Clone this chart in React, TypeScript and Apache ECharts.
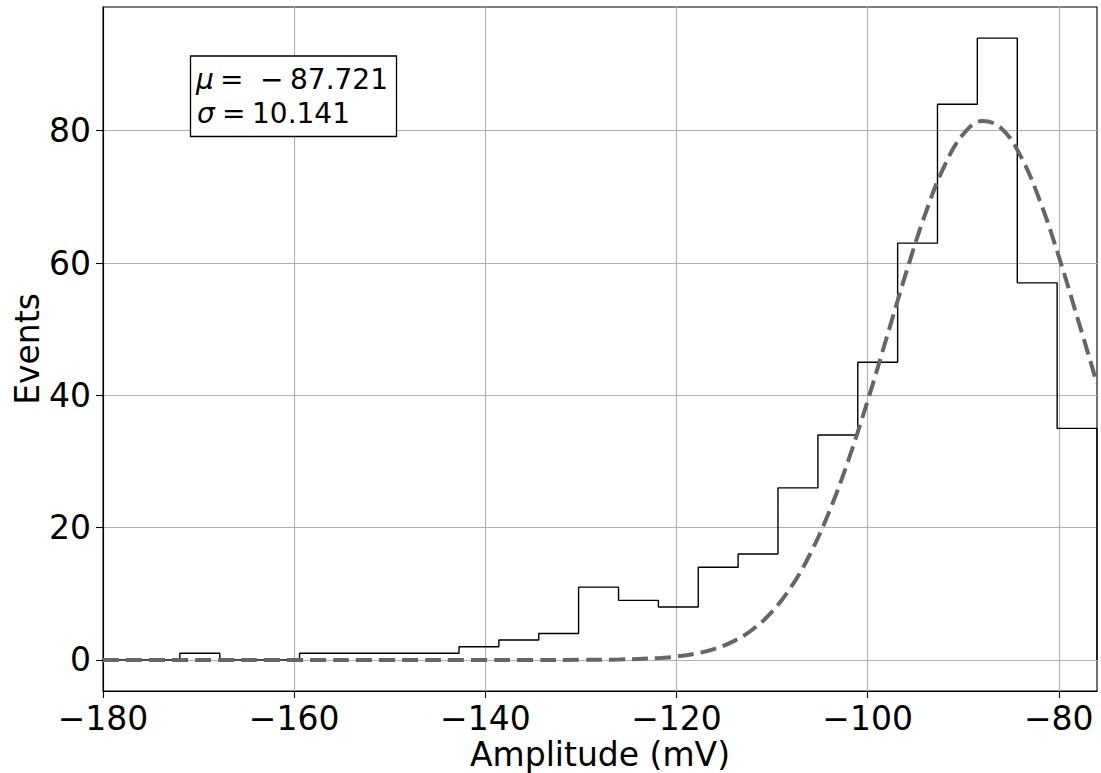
import React, { useEffect, useRef } from "react";
import * as echarts from "echarts";

// Histogram bin edges (mV) and counts
const binEdges = [
  -180.3, -176.13, -171.96, -167.78, -163.61, -159.44, -155.27, -151.1, -146.92,
  -142.75, -138.58, -134.41, -130.24, -126.06, -121.89, -117.72, -113.55, -109.38,
  -105.2, -101.03, -96.86, -92.69, -88.52, -84.34, -80.17, -76.0,
];
const binCounts = [
  0, 0, 1, 0, 0, 1, 1, 1, 1, 2, 3, 4, 11, 9, 8, 14, 16, 26, 34, 45, 63, 84, 94, 57, 35,
];

// Fitted curve
const fitX = [
  -180, -170, -160, -150, -140, -135, -130, -126, -122, -120, -118, -116, -114, -112,
  -110, -108, -106, -104, -102, -100, -98, -96, -94, -92, -90, -88, -86, -84, -82,
  -80, -78, -76,
];
const fitY = [
  0, 0, 0, 0, 0, 0.0015, 0.014, 0.066, 0.27, 0.51, 0.94, 1.67, 2.84, 4.64, 7.3, 11.03,
  16.05, 22.46, 30.25, 39.15, 48.75, 58.4, 67.28, 74.56, 79.46, 81.47, 80.34, 76.19,
  69.51, 61.0, 51.48, 41.79,
];

const xTicks = [-180, -160, -140, -120, -100, -80];
const yTicks = [0, 20, 40, 60, 80];

const muSymbol = "μ";
const muValue = "87.721";
const sigmaSymbol = "σ";
const sigmaValue = "10.141";

const FONT = "DejaVu Sans";

const fmt = (v: number) => (v < 0 ? "\u2212" + Math.abs(v) : String(v));

function txt(text: string, x: number, y: number, italic = false) {
  return {
    type: "text",
    z: 101,
    x,
    y,
    style: {
      text,
      fontSize: 28,
      fontFamily: FONT,
      fontStyle: italic ? "italic" : "normal",
      fill: "#000",
      verticalAlign: "middle",
      align: "left",
    },
  };
}

export default function App() {
  const ref = useRef<HTMLDivElement>(null);
  useEffect(() => {
    if (!ref.current) return;
    const chart = echarts.init(ref.current, undefined, { renderer: "svg" });

    const histPts: number[][] = [[binEdges[0], 0]];
    binCounts.forEach((c, i) => {
      histPts.push([binEdges[i], c]);
      histPts.push([binEdges[i + 1], c]);
    });
    histPts.push([binEdges[binEdges.length - 1], 0]);

    const fitPts = fitX.map((x, i) => [x, fitY[i]]);

    const axisCommon = {
      type: "value" as const,
      nameLocation: "middle" as const,
      nameMoveOverlap: false,
      nameTextStyle: { fontSize: 33, lineHeight: 33, color: "#000", fontFamily: FONT },
      axisLine: { show: true, onZero: false, lineStyle: { color: "#000", width: 1.1 } },
      splitLine: { show: true, lineStyle: { color: "#b0b0b0", width: 1.1 } },
    };

    chart.setOption({
      animation: false,
      backgroundColor: "#fff",
      grid: {
        left: 103,
        right: 4,
        top: 7,
        bottom: 82,
        show: true,
        borderColor: "#000",
        borderWidth: 1.1,
        backgroundColor: "transparent",
        containLabel: false,
        outerBoundsMode: "none",
      },
      xAxis: {
        ...axisCommon,
        min: -180,
        max: -76,
        interval: 20,
        name: "Amplitude (mV)",
        nameGap: 47,
        axisTick: {
          show: true,
          length: 7,
          lineStyle: { color: "#000", width: 1.1 },
          customValues: xTicks,
        },
        axisLabel: {
          customValues: xTicks,
          fontSize: 33,
          lineHeight: 33,
          color: "#000",
          fontFamily: FONT,
          margin: 11,
          formatter: fmt,
        },
      },
      yAxis: {
        ...axisCommon,
        min: -4.7,
        max: 98.7,
        splitNumber: 5,
        name: "Events",
        nameGap: 59,
        axisTick: {
          show: true,
          length: 7,
          lineStyle: { color: "#000", width: 1.1 },
          customValues: yTicks,
        },
        axisLabel: {
          customValues: yTicks,
          fontSize: 33,
          color: "#000",
          fontFamily: FONT,
          margin: 12,
          formatter: fmt,
        },
      },
      series: [
        {
          type: "line",
          data: histPts,
          showSymbol: false,
          symbol: "none",
          lineStyle: { color: "#000", width: 1.4 },
          z: 3,
          silent: true,
        },
        {
          type: "line",
          data: fitPts,
          showSymbol: false,
          symbol: "none",
          smooth: 0.4,
          lineStyle: { color: "#666666", width: 4, type: [16, 7] },
          z: 4,
          silent: true,
        },
      ],
      graphic: [
        {
          type: "rect",
          z: 100,
          shape: { x: 190.5, y: 56, width: 206, height: 80.5 },
          style: { fill: "#fff", stroke: "#000", lineWidth: 1.3 },
        },
        txt(muSymbol, 196, 79, true),
        txt("=", 220, 79),
        txt("\u2212", 260, 79),
        txt(muValue, 290, 79),
        txt(sigmaSymbol, 197, 113, true),
        txt("=", 222, 113),
        txt(sigmaValue, 252, 113),
      ],
    });
    return () => chart.dispose();
  }, []);
  return (
    <div
      ref={ref}
      style={{ position: "fixed", left: 0, top: 0, width: 1101, height: 773 }}
    />
  );
}
